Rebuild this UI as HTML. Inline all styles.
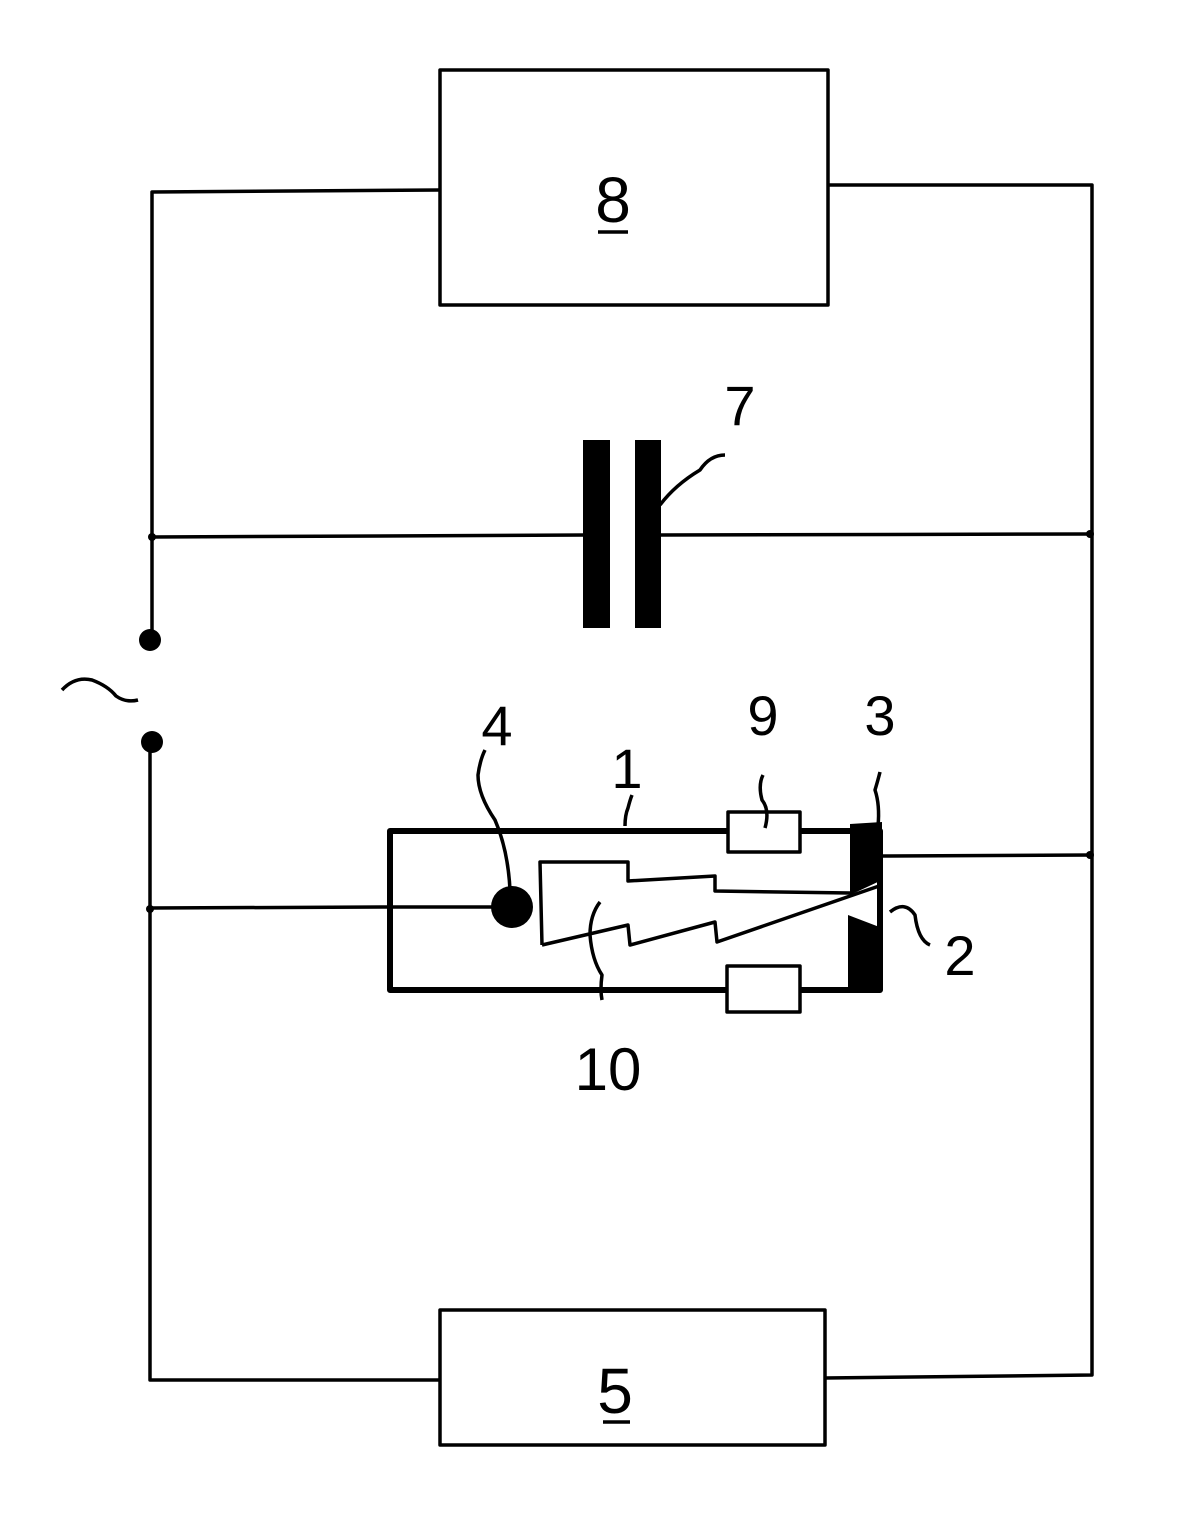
<!DOCTYPE html>
<html><head><style>html,body{margin:0;background:#fff}svg{display:block}</style></head>
<body>
<svg width="1200" height="1540" viewBox="0 0 1200 1540" xmlns="http://www.w3.org/2000/svg">
<g fill="none" stroke="#000" stroke-width="3.5" stroke-linejoin="round">
<rect x="440" y="70" width="388" height="235"/>
<rect x="440" y="1310" width="385" height="135"/>
<polyline points="440,190 152,192 152,637"/>
<polyline points="828,185 1092,185 1092,1375 825,1378"/>
<polyline points="150,742 150,1380 440,1380"/>
<line x1="152" y1="537" x2="585" y2="535"/>
<line x1="660" y1="535" x2="1092" y2="534"/>
<line x1="150" y1="908" x2="388" y2="907"/>
<line x1="388" y1="907" x2="492" y2="907"/>
<line x1="880" y1="856" x2="1092" y2="855"/>
<rect x="390" y="831" width="490" height="159" stroke-width="6"/>
<polyline points="542,945 540,862 628,862 628,881 715,876 715,891 850,893"/>
<polyline points="542,945 628,925 630,945 715,922 717,942 882,885"/>
<rect x="728" y="812" width="72" height="40" fill="#fff"/>
<rect x="727" y="966" width="73" height="46" fill="#fff"/>
<path d="M62,690 Q75,676 92,680 Q108,686 116,696 Q126,703 138,700"/>
<path d="M660,505 Q675,485 700,470 Q710,455 725,455"/>
<path d="M510,890 Q508,850 495,820 Q478,795 478,775 Q480,760 485,750"/>
<path d="M625,826 Q625,815 628,808 Q630,800 632,795"/>
<path d="M765,828 Q770,810 762,800 Q758,785 763,775"/>
<path d="M878,826 Q880,805 875,790 Q878,780 880,772"/>
<path d="M890,912 Q905,900 915,915 Q918,940 930,945"/>
<path d="M600,902 Q590,915 590,935 Q592,960 602,975 Q600,990 602,1000"/>
<line x1="598" y1="232" x2="628" y2="232"/>
<line x1="603" y1="1422" x2="630" y2="1422"/>
</g>
<g fill="#000">
<rect x="583" y="440" width="27" height="188"/>
<rect x="635" y="440" width="26" height="188"/>
<circle cx="150" cy="640" r="11"/>
<circle cx="152" cy="742" r="11"/>
<circle cx="512" cy="907" r="21"/>
<circle cx="152" cy="537" r="4"/>
<circle cx="1090" cy="534" r="4"/>
<circle cx="150" cy="909" r="4"/>
<circle cx="1090" cy="855" r="4"/>
<polygon points="850,824 882,822 882,880 850,895"/>
<polygon points="848,915 882,928 882,990 848,990"/>
</g>
<g font-family="Liberation Sans, sans-serif" font-size="64" fill="#000" text-anchor="middle">
<text x="613" y="222">8</text>
<text x="615" y="1413">5</text>
<text x="740" y="425" font-size="56">7</text>
<text x="497" y="745" font-size="56">4</text>
<text x="627" y="788" font-size="56">1</text>
<text x="763" y="735" font-size="56">9</text>
<text x="880" y="735" font-size="56">3</text>
<text x="960" y="975" font-size="56">2</text>
<text x="608" y="1090" font-size="60">10</text>
</g>
</svg>
</body></html>
